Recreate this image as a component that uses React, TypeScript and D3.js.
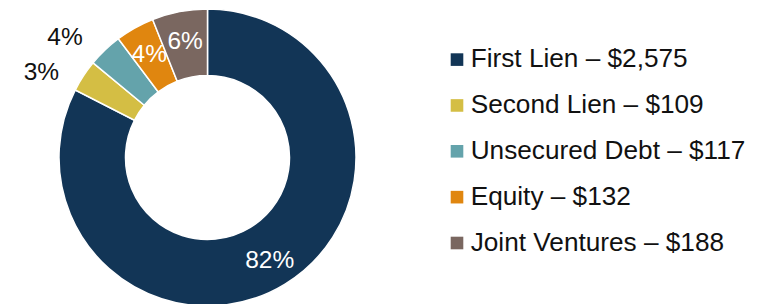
import React, { useEffect, useRef } from "react";
import * as d3 from "d3";

const categories = ["First Lien", "Second Lien", "Unsecured Debt", "Equity", "Joint Ventures"];
const values = [2575, 109, 117, 132, 188];
const percentLabels = ["82%", "3%", "4%", "4%", "6%"];
const colors = ["#123556", "#D4BE44", "#64A3AB", "#E0860F", "#7A6760"];
// slices whose percentage sits outside the ring
const outsideLabels = ["Second Lien", "Unsecured Debt"];

export default function App() {
  const svgRef = useRef<SVGSVGElement>(null);

  useEffect(() => {
    const w = 765;
    const h = 304;
    const cx = 207.5;
    const cy = 157.5;
    const outer = 148.5;
    const inner = 82;
    const font = "'Liberation Sans', Arial, sans-serif";

    d3.select(svgRef.current).selectAll("*").remove();
    const svg = d3.select(svgRef.current).attr("width", w).attr("height", h);

    const data = categories.map((c, i) => ({
      name: c,
      value: values[i],
      color: colors[i],
      pct: percentLabels[i],
    }));

    const pie = d3
      .pie<any>()
      .value((d) => d.value)
      .sort(null);
    const arcs = pie(data);

    const arc = d3.arc<any>().innerRadius(inner).outerRadius(outer);

    const g = svg.append("g").attr("transform", `translate(${cx},${cy})`);

    g.selectAll("path")
      .data(arcs)
      .join("path")
      .attr("d", arc)
      .attr("fill", (d) => d.data.color)
      .attr("stroke", "#fff")
      .attr("stroke-width", 1.5);

    // percentage labels
    g.selectAll("text")
      .data(arcs)
      .join("text")
      .each(function (d) {
        const out = outsideLabels.includes(d.data.name);
        const mid = (d.startAngle + d.endAngle) / 2 - (out ? (6 * Math.PI) / 180 : 0);
        const r = out ? 187 : 119;
        d3.select(this)
          .attr("x", r * Math.sin(mid))
          .attr("y", -r * Math.cos(mid))
          .attr("fill", out ? "#111" : "#fff");
      })
      .attr("text-anchor", "middle")
      .attr("dy", "0.35em")
      .style("font-family", font)
      .style("font-size", "24.5px")
      .text((d) => d.data.pct);

    // legend
    const y = d3
      .scalePoint()
      .domain(categories)
      .range([67.3, 250.7]);

    const legend = svg
      .append("g")
      .selectAll("g")
      .data(data)
      .join("g")
      .attr("transform", (d) => `translate(450.7,${y(d.name)})`);

    legend
      .append("rect")
      .attr("x", 0)
      .attr("y", -14)
      .attr("width", 12.6)
      .attr("height", 12.6)
      .attr("fill", (d) => d.color);

    legend
      .append("text")
      .attr("x", 20)
      .attr("y", 0)
      .attr("fill", "#111")
      .style("font-family", font)
      .style("font-size", "26.2px")
      .text((d) => `${d.name} – $${d3.format(",")(d.value)}`);
  }, []);

  return (
    <div>
      <svg ref={svgRef} style={{ position: "absolute", left: 0, top: 0, background: "#fff" }}></svg>
    </div>
  );
}
